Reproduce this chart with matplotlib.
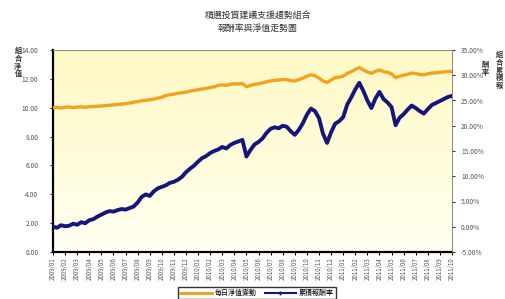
import numpy as np
import matplotlib
matplotlib.use("Agg")
import matplotlib.pyplot as plt
from matplotlib.lines import Line2D

plt.rcParams['font.family'] = ['Noto Sans CJK TC', 'DejaVu Sans']

title = "精選投資建議支援趨勢組合\n報酬率與淨值走勢圖"
left_label = "組\n合\n淨\n值"
right_label_1 = "組\n合\n累\n積\n報"
right_label_2 = "酬\n率"
series_nav_name = "每日淨值變動"
series_ret_name = "累積報酬率"

nav_values = [
    10.00, 10.02, 9.98, 10.03, 10.05, 10.01, 10.04, 10.06, 10.03, 10.07,
    10.08, 10.10, 10.12, 10.15, 10.17, 10.20, 10.22, 10.25, 10.28, 10.32,
    10.38, 10.42, 10.48, 10.52, 10.55, 10.60, 10.66, 10.72, 10.85, 10.90,
    10.94, 11.00, 11.04, 11.08, 11.15, 11.20, 11.25, 11.30, 11.34, 11.40,
    11.45, 11.55, 11.58, 11.55, 11.62, 11.66, 11.64, 11.68, 11.45, 11.55,
    11.62, 11.66, 11.72, 11.80, 11.86, 11.90, 11.92, 11.96, 11.94, 11.88,
    11.85, 11.95, 12.05, 12.18, 12.28, 12.22, 12.05, 11.85, 11.75, 11.92,
    12.08, 12.12, 12.18, 12.38, 12.50, 12.65, 12.78, 12.62, 12.48, 12.38,
    12.52, 12.62, 12.50, 12.45, 12.35, 12.08, 12.18, 12.25, 12.32, 12.40,
    12.36, 12.30, 12.28, 12.35, 12.40, 12.42, 12.45, 12.48, 12.50, 12.52,
]

ret_values = [
    0.0, -0.2, 0.3, 0.1, 0.2, 0.6, 0.4, 0.9, 0.7, 1.3,
    1.5, 2.0, 2.4, 2.8, 3.1, 3.0, 3.3, 3.5, 3.4, 3.7,
    4.0, 4.8, 5.9, 6.4, 6.1, 7.0, 7.6, 7.9, 8.2, 8.7,
    8.9, 9.3, 9.9, 10.8, 11.5, 12.1, 12.9, 13.6, 14.0, 14.6,
    15.0, 15.3, 15.8, 15.5, 16.2, 16.6, 16.9, 17.2, 13.9, 15.2,
    16.3, 16.8, 17.5, 18.6, 19.4, 19.7, 19.5, 20.0, 19.8, 18.9,
    18.2, 19.2, 20.5, 22.2, 23.4, 22.9, 21.5, 18.4, 16.6, 18.7,
    20.4, 20.9, 21.7, 24.2, 25.6, 27.2, 28.5, 26.9, 25.0, 23.5,
    25.4, 26.7, 25.3, 24.6, 23.7, 20.1, 21.6, 22.3, 23.2, 24.0,
    23.5, 22.9, 22.4, 23.3, 24.1, 24.5, 24.9, 25.3, 25.7, 25.9,
]

tick_labels = [
    "2009/01", "2009/02", "2009/03", "2009/04", "2009/05", "2009/06",
    "2009/07", "2009/08", "2009/09", "2009/10", "2009/11", "2009/12",
    "2010/01", "2010/02", "2010/03", "2010/04", "2010/05", "2010/06",
    "2010/07", "2010/08", "2010/09", "2010/10", "2010/11", "2010/12",
    "2011/01", "2011/02", "2011/03", "2011/04", "2011/05", "2011/06",
    "2011/07", "2011/08", "2011/09", "2011/10",
]

left_ticks = [0, 2, 4, 6, 8, 10, 12, 14]
right_ticks = [-5, 0, 5, 10, 15, 20, 25, 30, 35]

fig = plt.figure(figsize=(5.06, 2.99), dpi=100)
fig.patch.set_facecolor("white")
ax = fig.add_axes([53/506, 1-252/299, 399/506, 202/299])
ax2 = ax.twinx()

# background gradient
grad = np.linspace(0, 1, 256).reshape(-1, 1)
top = np.array([255, 249, 196]) / 255
bot = np.array([255, 255, 240]) / 255
img = top[None, None, :] * (1 - grad[:, :, None]) + bot[None, None, :] * grad[:, :, None]
ax.imshow(img, extent=[0, 1, 0, 1], transform=ax.transAxes, aspect="auto", zorder=0)

x = np.arange(len(nav_values))
ax.plot(x, nav_values, color="#F2A21E", lw=2.4, zorder=3)
ax2.plot(x, ret_values, color="#16167A", lw=2.8, zorder=3)

ax.set_xlim(0, len(nav_values) - 1)
ax.set_ylim(0, 14)
ax2.set_ylim(-5, 35)
ax.set_yticks(left_ticks)
ax.set_yticklabels([f"{v:.2f}" for v in left_ticks], fontsize=4.8, color="#555555")
ax2.set_yticks(right_ticks)
ax2.set_yticklabels([f"{v:.2f}%" for v in right_ticks], fontsize=4.8, color="#555555")

tpos = np.arange(0, len(nav_values), 3)[:len(tick_labels)]
ax.set_xticks(tpos)
ax.set_xticklabels(tick_labels, rotation=90, fontsize=4.4, color="#555555")
ax.tick_params(axis="x", length=2, pad=2)
ax.tick_params(axis="y", length=2.5, pad=8, width=0.6)
ax2.tick_params(axis="y", length=2.5, pad=4, width=0.6)

for s in ["left", "bottom"]:
    ax.spines[s].set_linewidth(1.6)
    ax.spines[s].set_color("black")
for s in ["top", "right"]:
    ax.spines[s].set_linewidth(0.7)
    ax.spines[s].set_color("#888888")
ax2.spines["right"].set_color("#888888")
ax2.spines["right"].set_linewidth(0.7)
ax2.spines["left"].set_visible(False)
ax2.spines["top"].set_visible(False)
ax2.spines["bottom"].set_visible(False)

fig.text(258/506, 1-22/299, title, ha="center", va="center", fontsize=6.4,
         color="#333333", linespacing=1.6)
fig.text(18/506, 1-62/299, left_label, ha="center", va="center", fontsize=5.2,
         color="#333333", linespacing=1.1, fontweight="bold")
fig.text(499/506, 1-70/299, right_label_1, ha="center", va="center", fontsize=5.2,
         color="#333333", linespacing=1.1, fontweight="bold")
fig.text(485/506, 1-68/299, right_label_2, ha="center", va="center", fontsize=5.2,
         color="#333333", linespacing=1.1, fontweight="bold")

handles = [Line2D([0], [0], color="#F2A21E", lw=2.2),
           Line2D([0], [0], color="#16167A", lw=1.5, marker="+", markersize=3)]
leg = fig.legend(handles, [series_nav_name, series_ret_name], loc="center",
                 bbox_to_anchor=(257/506, 1-293/299), ncol=2, fontsize=5,
                 frameon=True, fancybox=False, edgecolor="black",
                 handlelength=4.5, columnspacing=1.2, borderpad=0.3,
                 handletextpad=0.4)
leg.get_frame().set_linewidth(1.0)

fig.savefig("out.png", dpi=100)
